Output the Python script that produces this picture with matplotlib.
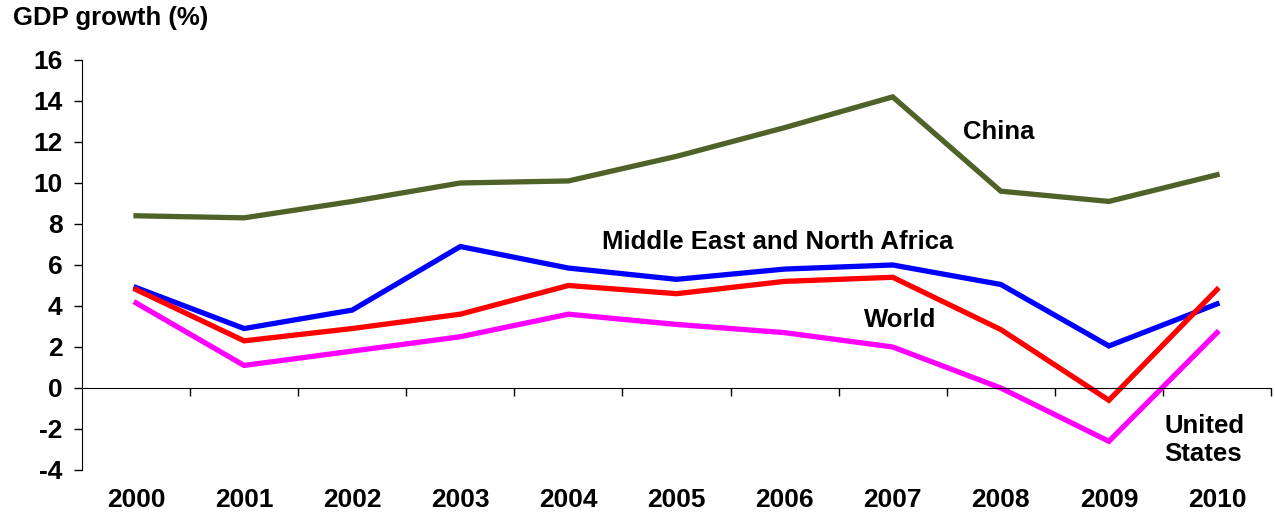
import matplotlib
matplotlib.use("Agg")
from matplotlib import pyplot as plt
import matplotlib.transforms as mtransforms

plt.rcParams['font.family'] = ['Liberation Sans', 'DejaVu Sans']
plt.rcParams['font.weight'] = 'bold'
plt.rcParams['axes.unicode_minus'] = False

years = ['2000', '2001', '2002', '2003', '2004', '2005', '2006', '2007', '2008', '2009', '2010']
china = [8.4, 8.3, 9.1, 10.0, 10.1, 11.3, 12.7, 14.2, 9.6, 9.1, 10.4]
mena = [4.9, 2.9, 3.8, 6.9, 5.85, 5.3, 5.8, 6.0, 5.05, 2.05, 4.1]
world = [4.8, 2.3, 2.9, 3.6, 5.0, 4.6, 5.2, 5.4, 2.85, -0.6, 4.8]
usa = [4.15, 1.1, 1.8, 2.5, 3.6, 3.1, 2.7, 2.0, 0.0, -2.6, 2.7]

x = list(range(len(years)))

fig = plt.figure(figsize=(12.75, 5.18), dpi=100)
ax = fig.add_axes([0.0643, 0.0927, 0.9326, 0.7915])

# the four series
ax.plot(x, china, color='#4F6228', lw=3.8, solid_joinstyle='miter')
ax.plot(x, mena, color='#0000FF', lw=3.8, solid_joinstyle='miter')
ax.plot(x, world, color='#FF0000', lw=3.8, solid_joinstyle='miter')
ax.plot(x, usa, color='#FF00FF', lw=3.8, solid_joinstyle='miter')

ax.set_xlim(-0.5, len(years) - 0.5)
ax.set_ylim(-4, 16)
ax.set_yticks(range(-4, 17, 2))
ax.tick_params(axis='y', direction='out', length=6, width=1, labelsize=19, pad=8)

ax.spines['top'].set_visible(False)
ax.spines['right'].set_visible(False)
ax.spines['bottom'].set_position(('data', 0))
ax.spines['left'].set_color('black')
ax.spines['bottom'].set_color('black')

# category boundaries as ticks, year labels below the plot
ax.set_xticks([i - 0.5 for i in range(1, len(years) + 1)])
ax.set_xticklabels([])
ax.tick_params(axis='x', direction='out', length=6, width=1)

trans = mtransforms.blended_transform_factory(ax.transData, ax.transAxes)
for i, yr in enumerate(years):
    ax.text(i, -0.072, yr, transform=trans, ha='center', va='center', fontsize=19, fontweight='bold')

ax.text(7.98, 12.5, 'China', fontsize=18.5, fontweight='bold', ha='center', va='center')
ax.text(5.94, 7.1, 'Middle East and North Africa', fontsize=18.5, fontweight='bold', ha='center', va='center')
ax.text(7.07, 3.3, 'World', fontsize=18.5, fontweight='bold', ha='center', va='center')
ax.text(9.51, -2.55, 'United\nStates', fontsize=18.5, fontweight='bold', ha='left', va='center',
        linespacing=1.2)

fig.text(0.01, 0.965, 'GDP growth (%)', fontsize=18.5, fontweight='bold', ha='left', va='center')

fig.savefig('out.png', dpi=100)
